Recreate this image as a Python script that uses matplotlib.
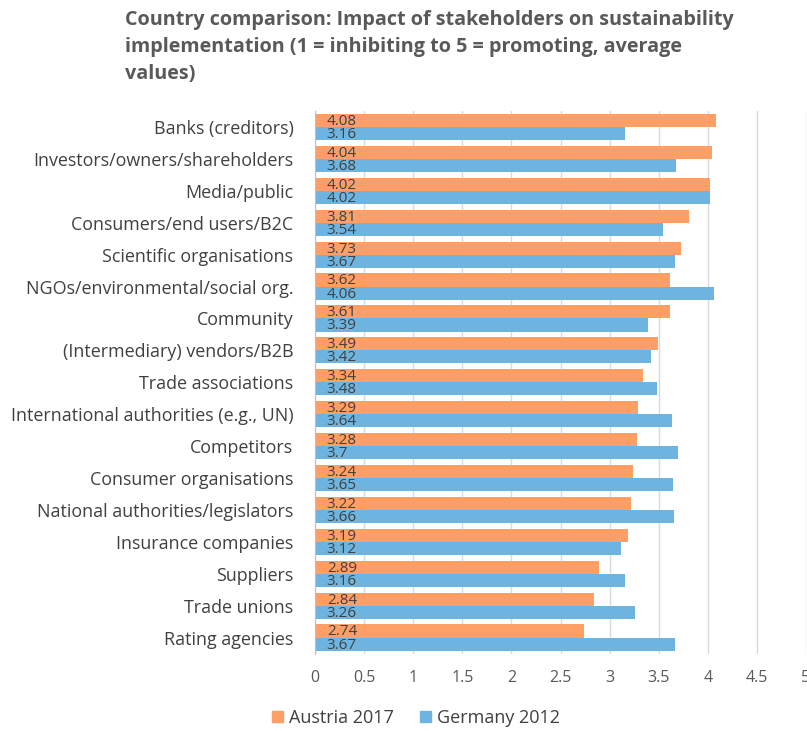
import matplotlib
matplotlib.use("Agg")
import matplotlib.pyplot as plt
import numpy as np
from matplotlib.patches import Patch

categories = [
    "Banks (creditors)",
    "Investors/owners/shareholders",
    "Media/public",
    "Consumers/end users/B2C",
    "Scientific organisations",
    "NGOs/environmental/social org.",
    "Community",
    "(Intermediary) vendors/B2B",
    "Trade associations",
    "International authorities (e.g., UN)",
    "Competitors",
    "Consumer organisations",
    "National authorities/legislators",
    "Insurance companies",
    "Suppliers",
    "Trade unions",
    "Rating agencies",
]
austria_2017 = [4.08, 4.04, 4.02, 3.81, 3.73, 3.62, 3.61, 3.49, 3.34, 3.29, 3.28, 3.24, 3.22, 3.19, 2.89, 2.84, 2.74]
germany_2012 = [3.16, 3.68, 4.02, 3.54, 3.67, 4.06, 3.39, 3.42, 3.48, 3.64, 3.70, 3.65, 3.66, 3.12, 3.16, 3.26, 3.67]
xticks = [0, 0.5, 1, 1.5, 2, 2.5, 3, 3.5, 4, 4.5, 5]

FONT = "Open Sans"
plt.rcParams["font.family"] = [FONT, "DejaVu Sans"]

C_AT = "#FF9F66"
C_DE = "#6DB5E0"
TXT = "#404040"

fig = plt.figure(figsize=(8.07, 7.31), dpi=100)
ax = fig.add_axes([315/807, 1 - 653.5/731, (806-315)/807, (653.5-111)/731])

y = np.arange(len(categories))
h = 0.41
ax.barh(y - h/2, austria_2017, height=h, color=C_AT, zorder=2)
ax.barh(y + h/2, germany_2012, height=h, color=C_DE, zorder=2)

for yi, a, g in zip(y, austria_2017, germany_2012):
    ax.text(0.12, yi - h/2 + 0.03, f"{a:g}", ha="left", va="center", fontsize=11, color=TXT, zorder=3)
    ax.text(0.12, yi + h/2 + 0.03, f"{g:g}", ha="left", va="center", fontsize=11, color=TXT, zorder=3)

ax.set_xlim(0, 5)
ax.set_ylim(len(categories) - 0.5, -0.5)
ax.set_xticks(xticks)
ax.set_xticklabels([f"{t:g}" for t in xticks], fontsize=11.5, color="#595959")
ax.set_yticks(y)
ax.set_yticklabels(categories, fontsize=12.9, color=TXT)
ax.tick_params(axis="y", length=0, pad=15.5)
ax.tick_params(axis="x", length=0, pad=12)
ax.grid(axis="x", color="#D9D9D9", linewidth=1, zorder=1)
for s in ["top", "right", "bottom"]:
    ax.spines[s].set_visible(False)
ax.spines["left"].set_color("#BFBFBF")
ax.spines["left"].set_zorder(3)

fig.text(125/807, 1 - 10/731,
         "Country comparison: Impact of stakeholders on sustainability\nimplementation (1 = inhibiting to 5 = promoting, average\nvalues)",
         ha="left", va="top", fontsize=14.2, fontweight="bold", color="#595959", linespacing=1.45)

handles = [Patch(color=C_AT, label="Austria 2017"), Patch(color=C_DE, label="Germany 2012")]
fig.legend(handles=handles, loc="center", bbox_to_anchor=(416/807, 1 - 718/731), ncol=2, frameon=False,
           fontsize=13, handlelength=0.6, handleheight=0.6, handletextpad=0.3, columnspacing=1.5,
           labelcolor=TXT)

fig.savefig("out.png", dpi=100)
